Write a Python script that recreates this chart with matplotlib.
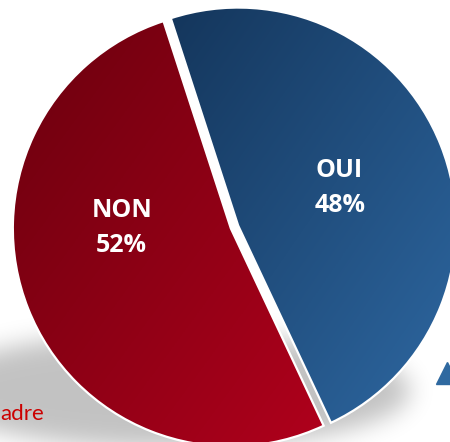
import numpy as np
import matplotlib.pyplot as plt
from matplotlib.colors import LinearSegmentedColormap

# data
labels = ['OUI', 'NON']
values = [48, 52]
pct_text = ['48%', '52%']
dark_cols = ['#14365c', '#6a000e']
light_cols = ['#2e68a2', '#b0001c']

# geometry in pixels (pie radius = 1 data unit)
W, H = 450, 442
R_PX = 218.0
CX, CY = 234.5, 227.0

xlim = (-CX / R_PX, (W - CX) / R_PX)
ylim = (-(H - CY) / R_PX, CY / R_PX)

fig = plt.figure(figsize=(4.5, 4.42), dpi=100)
ax = fig.add_axes([0, 0, 1, 1])


def blur(a, s):
    k = np.arange(-3 * s, 3 * s + 1)
    g = np.exp(-k ** 2 / (2.0 * s * s))
    g /= g.sum()
    a = np.apply_along_axis(lambda v: np.convolve(v, g, mode='same'), 0, a)
    a = np.apply_along_axis(lambda v: np.convolve(v, g, mode='same'), 1, a)
    return a


# soft shadow under the pie
pad = 60
yy, xx = np.mgrid[-pad:H + pad, -pad:W + pad]
mask = (((xx - 170) / 240.0) ** 2 + ((yy - 390) / 58.0) ** 2 <= 1).astype(float)
sh = blur(mask, 12)[pad:pad + H, pad:pad + W]
rgba = np.zeros((H, W, 4))
rgba[..., 3] = 0.24 * sh
ax.imshow(rgba, extent=(xlim[0], xlim[1], ylim[0], ylim[1]), origin='upper',
          zorder=0, interpolation='bilinear')

wedges, _ = ax.pie(values, startangle=108, counterclock=False,
                   explode=[0.018, 0.018], radius=1,
                   wedgeprops=dict(edgecolor='white', linewidth=1.6, facecolor='none'))

# gradient fill clipped to each wedge
for w, c0, c1 in zip(wedges, dark_cols, light_cols):
    w.set_zorder(3)
    ext = w.get_path().get_extents()
    u, v = np.meshgrid(np.linspace(0, 1, 200), np.linspace(0, 1, 200))
    t = (u + (1 - v)) / 2.0
    cmap = LinearSegmentedColormap.from_list('g', [c0, c1])
    im = ax.imshow(t, cmap=cmap, extent=(ext.x0, ext.x1, ext.y0, ext.y1),
                   origin='lower', zorder=2, interpolation='bilinear')
    im.set_clip_path(w)

# labels
name_pos = [(0.479, 0.229), (-0.516, 0.046)]
pct_pos = [(0.484, 0.069), (-0.521, -0.115)]
for lab, pct, p1, p2 in zip(labels, pct_text, name_pos, pct_pos):
    ax.text(p1[0], p1[1], lab, ha='center', va='baseline', color='white',
            fontsize=18, fontweight='bold', family='Open Sans', zorder=5)
    ax.text(p2[0], p2[1], pct, ha='center', va='baseline', color='white',
            fontsize=18, fontweight='bold', family='Open Sans', zorder=5)

# leftover bits of the slide around the chart
ax.text(xlim[0] + 0.5 / R_PX, (CY - 420) / R_PX, 'adre', ha='left', va='baseline',
        color='#cc0000', fontsize=16, family='Lato', zorder=1)
ax.plot([0.994], [0.155], marker='^', markersize=16, color='#2f69a0',
        transform=ax.transAxes, clip_on=False, zorder=1)

ax.set_xlim(xlim)
ax.set_ylim(ylim)
ax.axis('off')

fig.savefig('out.png', dpi=100)
